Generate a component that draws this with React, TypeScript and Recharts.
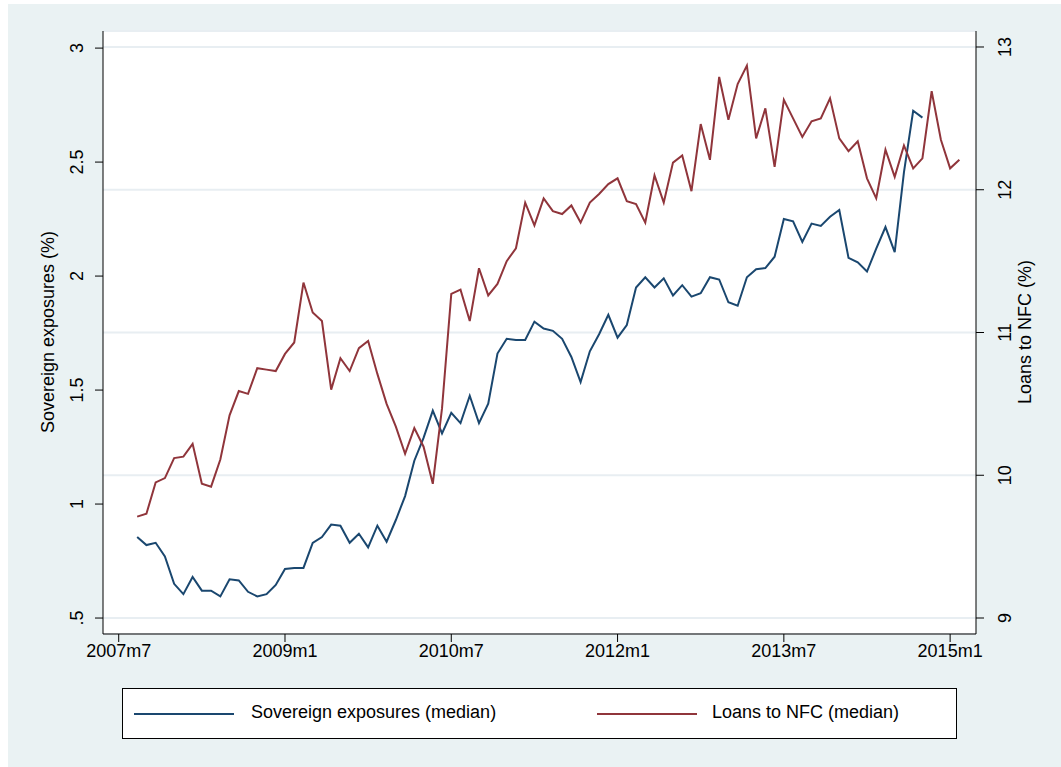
import { CartesianGrid, Line, LineChart, XAxis, YAxis } from "recharts";

// months since 2007m7; both series start 2007m9
const START = 2;
const sovereign = [
  0.855, 0.82, 0.83, 0.77, 0.65, 0.605, 0.68, 0.62, 0.62, 0.595, 0.67, 0.665, 0.615, 0.595, 0.605, 0.645,
  0.715, 0.72, 0.72, 0.83, 0.855, 0.91, 0.905, 0.83, 0.87, 0.81, 0.905, 0.835,
  0.93, 1.035, 1.19, 1.29, 1.41, 1.31, 1.4, 1.355, 1.475, 1.355, 1.44, 1.66, 1.725, 1.72, 1.72, 1.8,
  1.77, 1.76, 1.725, 1.645, 1.535, 1.67, 1.745, 1.83, 1.73, 1.785, 1.95, 1.995, 1.95, 1.99, 1.915, 1.96,
  1.91, 1.925, 1.995, 1.985, 1.885, 1.87, 1.995, 2.03, 2.035, 2.085, 2.25, 2.24, 2.15, 2.23, 2.22, 2.26,
  2.29, 2.08, 2.06, 2.02, 2.12, 2.215, 2.105, 2.455, 2.725, 2.695,
];
const loansNfc = [
  9.71, 9.73, 9.95, 9.98, 10.12, 10.13, 10.22, 9.94, 9.92, 10.11, 10.42, 10.59, 10.57, 10.75, 10.74,
  10.73, 10.85, 10.93, 11.35, 11.14, 11.08, 10.6, 10.82, 10.73, 10.89, 10.94, 10.71, 10.5, 10.34,
  10.15, 10.33, 10.2, 9.94, 10.47, 11.27, 11.3, 11.08, 11.45, 11.26, 11.34, 11.5, 11.59, 11.91, 11.75,
  11.94, 11.85, 11.83, 11.89, 11.77, 11.91, 11.97, 12.04, 12.08, 11.92, 11.9, 11.77, 12.1, 11.91, 12.19,
  12.24, 11.99, 12.46, 12.21, 12.79, 12.49, 12.74, 12.87, 12.36, 12.57, 12.16, 12.63, 12.5, 12.37,
  12.48, 12.5, 12.64, 12.36, 12.27, 12.34, 12.08, 11.94, 12.28, 12.09, 12.31, 12.15, 12.22, 12.69,
  12.35, 12.15, 12.21,
];
const xTicks = [0, 18, 36, 54, 72, 90];
const xTickLabels = ["2007m7", "2009m1", "2010m7", "2012m1", "2013m7", "2015m1"];
const leftTicks = [0.5, 1, 1.5, 2, 2.5, 3];
const leftTickLabels = [".5", "1", "1.5", "2", "2.5", "3"];
const rightTicks = [9, 10, 11, 12, 13];

const BLUE = "#1a476f";
const RED = "#90353b";
const FONT = "'Liberation Sans', Arial, sans-serif";

const data = loansNfc.map((v, i) => ({
  t: START + i,
  sov: i < sovereign.length ? sovereign[i] : null,
  nfc: v,
}));

function LeftTick({ x, y, payload }: any) {
  const label = leftTickLabels[leftTicks.indexOf(payload.value)] ?? payload.value;
  const lx = x - 10;
  return (
    <text x={lx} y={y} transform={`rotate(-90 ${lx} ${y})`} textAnchor="middle" fontSize={18} fill="#000" fontFamily={FONT}>
      {label}
    </text>
  );
}

function RightTick({ x, y, payload }: any) {
  const lx = x + 12;
  return (
    <text x={lx} y={y} transform={`rotate(-90 ${lx} ${y})`} textAnchor="middle" dominantBaseline="hanging" fontSize={18} fill="#000" fontFamily={FONT}>
      {payload.value}
    </text>
  );
}

export default function App() {
  return (
    <div style={{ position: "absolute", left: 0, top: 0, width: 1061, height: 767, background: "#fff", fontFamily: FONT }}>
      <div style={{ position: "absolute", left: 8, top: 4, right: 0, bottom: 0, background: "#eaf2f3" }} />
      <div style={{ position: "absolute", left: 0, top: 0 }}>
        <LineChart width={1061} height={767} data={data} margin={{ top: 31, right: 25, bottom: 103, left: 43 }}>
          <CartesianGrid yAxisId="right" vertical={false} fill="#fff" stroke="#e8eef2" strokeWidth={2} />
          <XAxis
            dataKey="t"
            type="number"
            domain={[-1.7, 92.8]}
            ticks={xTicks}
            tickFormatter={(v) => xTickLabels[xTicks.indexOf(v)]}
            height={30}
            stroke="#000"
            tickSize={8}
            tick={{ fill: "#000", fontSize: 18, fontFamily: FONT }}
            allowDataOverflow
          />
          <YAxis yAxisId="left" domain={[0.43, 3.075]} ticks={leftTicks} width={60} stroke="#000" tickSize={8} tick={<LeftTick />} allowDataOverflow />
          <YAxis yAxisId="right" orientation="right" domain={[8.888, 13.112]} ticks={rightTicks} width={60} stroke="#000" tickSize={8} tick={<RightTick />} allowDataOverflow />
          <Line yAxisId="left" dataKey="sov" stroke={BLUE} strokeWidth={2} dot={false} isAnimationActive={false} connectNulls={false} />
          <Line yAxisId="right" dataKey="nfc" stroke={RED} strokeWidth={2} dot={false} isAnimationActive={false} />
          <text x={54} y={332} transform="rotate(-90 54 332)" textAnchor="middle" fontSize={18} fill="#000" fontFamily={FONT}>
            Sovereign exposures (%)
          </text>
          <text x={1031} y={332} transform="rotate(-90 1031 332)" textAnchor="middle" fontSize={18} fill="#000" fontFamily={FONT}>
            Loans to NFC (%)
          </text>
        </LineChart>
      </div>
      <div style={{ position: "absolute", left: 122, top: 688, width: 833, height: 49, background: "#fff", border: "1px solid #000" }}>
        <div style={{ position: "absolute", left: 11, top: 24, width: 100, height: 2, background: BLUE }} />
        <div style={{ position: "absolute", left: 128, top: 13, fontSize: 18 }}>Sovereign exposures (median)</div>
        <div style={{ position: "absolute", left: 474, top: 24, width: 100, height: 2, background: RED }} />
        <div style={{ position: "absolute", left: 589, top: 13, fontSize: 18 }}>Loans to NFC (median)</div>
      </div>
    </div>
  );
}
